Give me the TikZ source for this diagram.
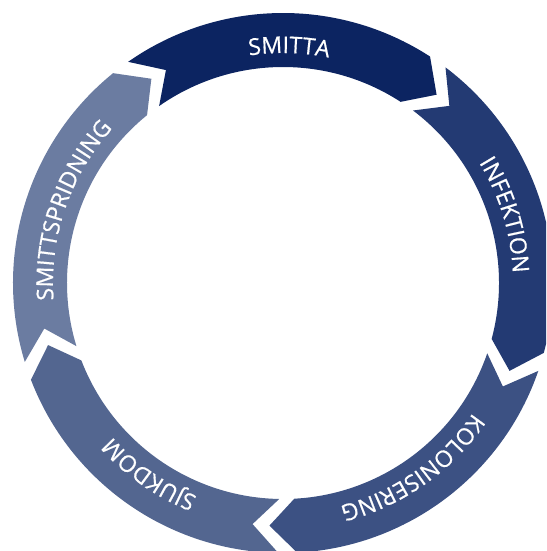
\documentclass[tikz,border=0pt]{standalone}
\usepackage{fontspec}
\usetikzlibrary{decorations.text}
\newfontfamily\ringfont[LetterSpace=3,FakeBold=0.6]{Open Sans}
\definecolor{segA}{HTML}{0C2461}
\definecolor{segB}{HTML}{233A73}
\definecolor{segC}{HTML}{3C5183}
\definecolor{segD}{HTML}{536690}
\definecolor{segE}{HTML}{6B7CA1}
\newcommand\ringseg[3]{%
  \fill[#3] (#1-4:270pt) arc[start angle=#1-4, end angle=#2, radius=270pt]
    -- (#2-6.2:243pt) -- (#2:216pt)
    arc[start angle=#2, end angle=#1-4, radius=216pt]
    -- (#1-10.2:243pt) -- cycle;}
\newcommand\ringlabel[2]{%
  \path[decorate, decoration={text along path, text color=white,
      text={|\ringfont\fontsize{23pt}{23pt}\selectfont|#2}, text align=center}]
    (#1+36:230pt) arc[start angle=#1+36, end angle=#1-36, radius=230pt];}
\begin{document}
\begin{tikzpicture}
\useasboundingbox (0pt,0pt) rectangle (546pt,-551pt);
\clip (0pt,0pt) rectangle (546pt,-551pt);
\begin{scope}[shift={(283pt,-283pt)}]
  \ringseg{129}{57}{segA}
  \ringseg{57}{-15}{segB}
  \ringseg{-15}{-87}{segC}
  \ringseg{-87}{-159}{segD}
  \ringseg{-159}{-231}{segE}
  \ringlabel{88.5}{SMITTA}
  \ringlabel{17}{INFEKTION}
  \ringlabel{-55}{KOLONISERING}
  \ringlabel{-125}{SJUKDOM}
  \ringlabel{-199}{SMITTSPRIDNING}
\end{scope}
\end{tikzpicture}
\end{document}
